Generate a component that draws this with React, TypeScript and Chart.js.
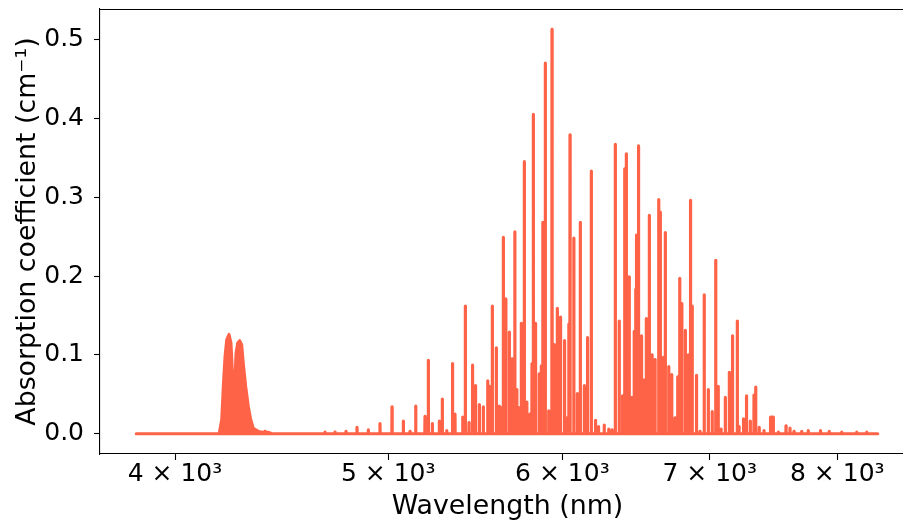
import React, { useEffect, useRef } from "react";
import { Chart, registerables } from "chart.js";

Chart.register(...registerables);

// Spectrum extent (nm)
const spectrumStart = 3841.2;
const spectrumEnd = 8345.8;

// CO2-like band envelope near 4.26 µm (nm, cm^-1)
const bandWavelength = [4189.8, 4200.4, 4207.4, 4214.9, 4222.4, 4232.6, 4241.4, 4247.2, 4253.5, 4259.2, 4263.7, 4271.3, 4280.2, 4289.2, 4296.4, 4307.2, 4318.9, 4329.8, 4341.6, 4364.4, 4385.9, 4408.9, 4427.4];
const bandAbsorption = [0.001, 0.018, 0.060, 0.098, 0.119, 0.126, 0.115, 0.081, 0.043, 0.068, 0.102, 0.115, 0.118, 0.113, 0.089, 0.060, 0.035, 0.018, 0.007, 0.003, 0.002, 0.002, 0.0];

// Individual absorption lines (nm, cm^-1)
const lineWavelength = [
  4395.1, 4679.9, 4729.2, 4783.9, 4839.3, 4896.9, 4957.2, 5019.9, 5079.6, 5115.4,
  5146.0, 5196.3, 5214.3, 5236.2, 5274.7, 5291.2, 5315.7, 5348.0, 5362.0, 5405.4,
  5420.2, 5441.2, 5461.2, 5478.3, 5500.2, 5523.2, 5548.7, 5559.2, 5575.5, 5598.9,
  5616.5, 5626.5, 5640.1, 5654.9, 5675.6, 5691.7, 5708.4, 5720.3, 5731.7, 5747.3,
  5765.4, 5780.5, 5799.9, 5812.1, 5820.0, 5833.4, 5856.0, 5868.9, 5878.1, 5893.5,
  5914.5, 5935.0, 5948.7, 5968.0, 5988.0, 6013.2, 6028.9, 6040.3, 6047.9, 6072.0,
  6094.3, 6113.4, 6139.1, 6159.7, 6184.2, 6211.5, 6231.0, 6268.3, 6297.9, 6319.7,
  6341.5, 6367.5, 6389.5, 6404.2, 6415.0, 6434.5, 6453.3, 6468.2, 6478.4, 6483.8,
  6497.4, 6517.8, 6534.9, 6550.7, 6571.3, 6589.9, 6610.6, 6636.2, 6647.3, 6668.3,
  6682.2, 6706.1, 6727.1, 6750.4, 6769.5, 6783.7, 6798.6, 6823.6, 6845.0, 6860.8,
  6873.0, 6904.0, 6929.4, 6959.9, 6989.8, 7018.4, 7044.2, 7062.6, 7083.4, 7115.3,
  7145.2, 7169.1, 7205.2, 7218.1, 7252.1, 7274.9, 7303.9, 7332.3, 7345.3, 7372.3,
  7409.4, 7460.0, 7470.0, 7481.9, 7521.2, 7582.0, 7613.8, 7645.8, 7707.6, 7760.2,
  7860.8, 7932.7, 8037.2, 8164.3, 8250.2
];
const lineAbsorption = [
  0.003, 0.002, 0.002, 0.003, 0.008, 0.005, 0.013, 0.034, 0.016, 0.003,
  0.035, 0.022, 0.093, 0.013, 0.016, 0.044, 0.004, 0.089, 0.025, 0.021,
  0.162, 0.014, 0.087, 0.061, 0.037, 0.034, 0.067, 0.060, 0.162, 0.109,
  0.035, 0.033, 0.249, 0.171, 0.129, 0.095, 0.256, 0.056, 0.033, 0.140,
  0.345, 0.040, 0.025, 0.089, 0.405, 0.140, 0.076, 0.086, 0.268, 0.470,
  0.029, 0.513, 0.113, 0.159, 0.148, 0.118, 0.020, 0.139, 0.379, 0.248,
  0.051, 0.268, 0.061, 0.122, 0.333, 0.017, 0.009, 0.011, 0.006, 0.005,
  0.367, 0.143, 0.048, 0.336, 0.355, 0.199, 0.046, 0.130, 0.183, 0.252,
  0.365, 0.124, 0.068, 0.146, 0.277, 0.100, 0.094, 0.297, 0.281, 0.097,
  0.255, 0.085, 0.075, 0.020, 0.072, 0.197, 0.165, 0.131, 0.100, 0.296,
  0.162, 0.074, 0.003, 0.176, 0.056, 0.028, 0.220, 0.060, 0.006, 0.046,
  0.078, 0.124, 0.143, 0.009, 0.019, 0.048, 0.016, 0.049, 0.059, 0.008,
  0.004, 0.021, 0.021, 0.021, 0.002, 0.010, 0.007, 0.003, 0.003, 0.004,
  0.004, 0.003, 0.002, 0.002, 0.002
];

const xTickValues = [4000, 5000, 6000, 7000, 8000];
const xTickLabels = ["4 × 10³", "5 × 10³", "6 × 10³", "7 × 10³", "8 × 10³"];
const yTickValues = [0, 0.1, 0.2, 0.3, 0.4, 0.5];

const COLOR = "#FF6347";
const FONT = "'DejaVu Sans', sans-serif";

const framePlugin = {
  id: "frame",
  afterDraw(chart: any) {
    const { ctx, chartArea } = chart;
    ctx.save();
    ctx.strokeStyle = "#000";
    ctx.lineWidth = 1.1;
    ctx.beginPath();
    ctx.moveTo(chartArea.left, chartArea.top + 0.5);
    ctx.lineTo(chartArea.right, chartArea.top + 0.5);
    ctx.lineTo(chartArea.right, chartArea.bottom);
    ctx.stroke();
    ctx.restore();
  },
};

export default function App() {
  const ref = useRef<HTMLCanvasElement | null>(null);

  useEffect(() => {
    document.body.style.margin = "0";
    const canvas = ref.current;
    if (!canvas) return;

    const linePoints: { x: number; y: number }[] = [{ x: spectrumStart, y: 0 }];
    lineWavelength.forEach((w, i) => {
      linePoints.push({ x: w - 0.8, y: 0 });
      linePoints.push({ x: w, y: lineAbsorption[i] });
      linePoints.push({ x: w + 0.8, y: 0 });
    });
    linePoints.push({ x: spectrumEnd, y: 0 });

    const bandPoints = bandWavelength.map((w, i) => ({ x: w, y: bandAbsorption[i] }));

    const chart = new Chart(canvas, {
      type: "line",
      data: {
        datasets: [
          {
            label: "band",
            data: bandPoints,
            borderColor: COLOR,
            backgroundColor: COLOR,
            borderWidth: 3,
            pointRadius: 0,
            fill: "origin",
            tension: 0,
            borderJoinStyle: "round",
          },
          {
            label: "lines",
            data: linePoints,
            borderColor: COLOR,
            backgroundColor: COLOR,
            borderWidth: 3.2,
            pointRadius: 0,
            fill: false,
            tension: 0,
            borderJoinStyle: "round",
            borderCapStyle: "round",
          },
        ],
      },
      options: {
        responsive: false,
        animation: false,
        events: [],
        layout: { padding: { top: 9, right: 3, left: 0, bottom: 0 } },
        plugins: { legend: { display: false }, tooltip: { enabled: false } },
        scales: {
          x: {
            type: "logarithmic",
            min: 3698,
            max: 8678,
            afterFit: (s: any) => {
              s.height = 71;
              s.paddingLeft = 0;
              s.paddingRight = 0;
            },
            afterBuildTicks: (s: any) => {
              s.ticks = xTickValues.map((v) => ({ value: v, major: true }));
            },
            ticks: {
              autoSkip: false,
              maxRotation: 0,
              padding: 2,
              color: "#000",
              font: { family: FONT, size: 25, lineHeight: 1 },
              callback: (v: any) => {
                const i = xTickValues.indexOf(Number(v));
                return i >= 0 ? xTickLabels[i] : "";
              },
            },
            grid: { drawOnChartArea: false, drawTicks: true, tickLength: 6, tickColor: "#000", tickWidth: 1.1 },
            border: { display: true, color: "#000", width: 1.1 },
            title: {
              display: true,
              text: "Wavelength (nm)",
              color: "#000",
              font: { family: FONT, size: 26.8 },
              padding: { top: 0, bottom: 2 },
            },
          },
          y: {
            type: "linear",
            min: -0.0257,
            max: 0.5387,
            afterFit: (s: any) => {
              s.width = 100;
              s.paddingTop = 0;
              s.paddingBottom = 0;
            },
            afterBuildTicks: (s: any) => {
              s.ticks = yTickValues.map((v) => ({ value: v }));
            },
            ticks: {
              padding: 10,
              color: "#000",
              font: { family: FONT, size: 25 },
              callback: (v: any) => Number(v).toFixed(1),
            },
            grid: { drawOnChartArea: false, drawTicks: true, tickLength: 6, tickColor: "#000", tickWidth: 1.1 },
            border: { display: true, color: "#000", width: 1.1 },
            title: {
              display: true,
              text: "Absorption coefficient (cm⁻¹)",
              color: "#000",
              font: { family: FONT, size: 26.8 },
              padding: { top: 12, bottom: 0 },
            },
          },
        },
      },
      plugins: [framePlugin],
    });

    return () => chart.destroy();
  }, []);

  return (
    <div style={{ width: 903, height: 525, overflow: "hidden", position: "relative" }}>
      <canvas ref={ref} width={918} height={525} style={{ display: "block", width: 918, height: 525 }} />
    </div>
  );
}
